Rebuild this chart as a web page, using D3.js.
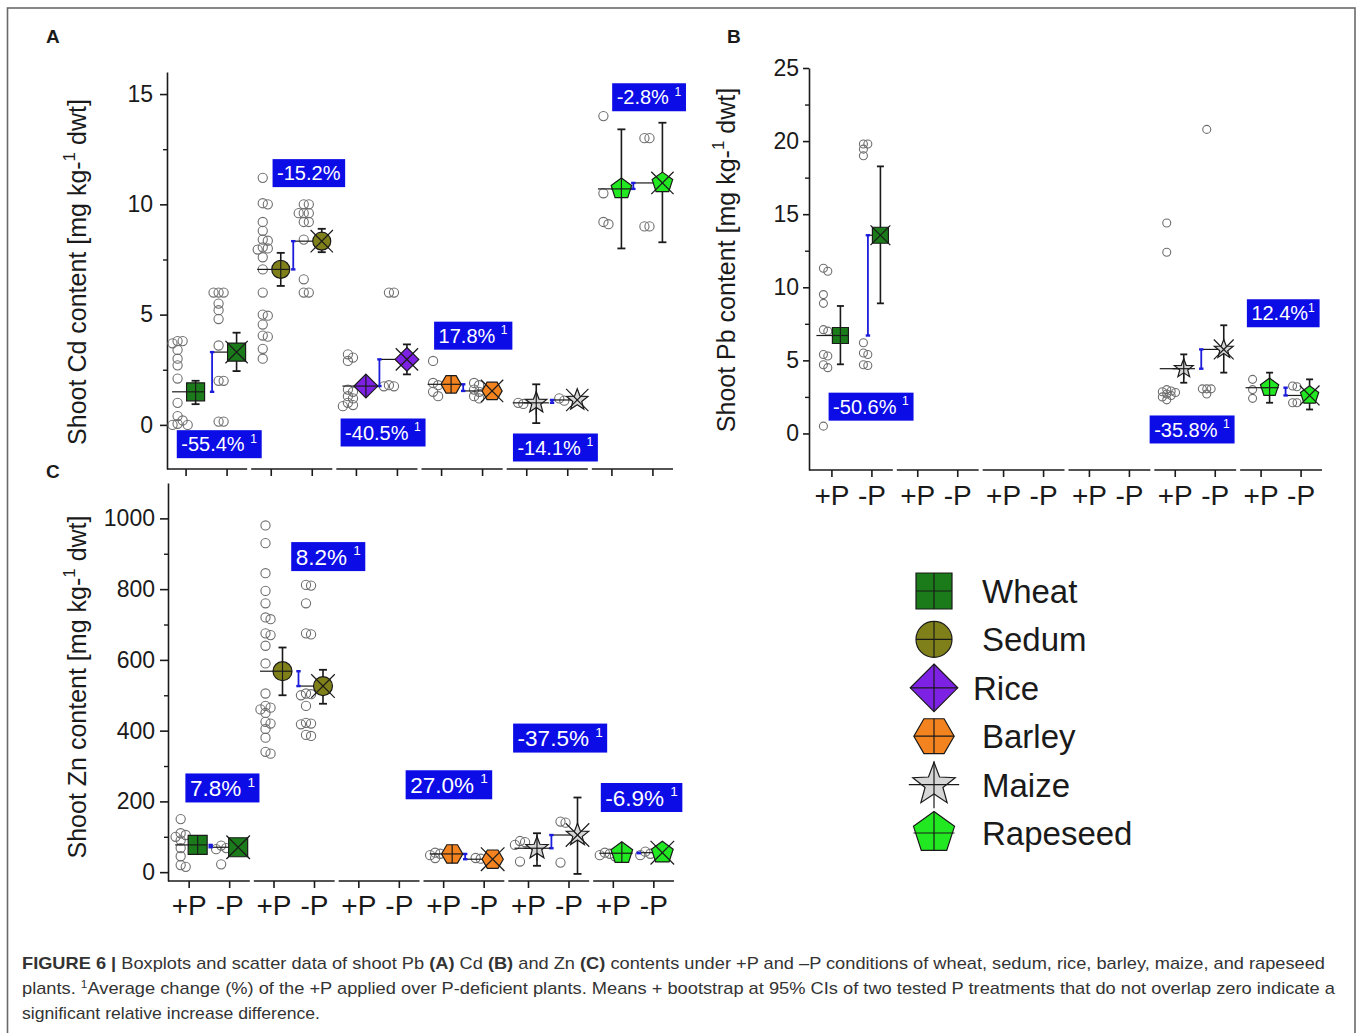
<!DOCTYPE html>
<html>
<head>
<meta charset="utf-8">
<script src="https://cdn.jsdelivr.net/npm/d3@7/dist/d3.min.js"></script>
<style>
  body { margin: 0; background: #fff; }
  svg { display: block; }
  text { font-family: "Liberation Sans", Arial, Helvetica, sans-serif; white-space: pre; }
</style>
</head>
<body>
<svg id="fig" width="1358" height="1033"></svg>
<script>
// ---------------- data ----------------
const crops = ["Wheat", "Sedum", "Rice", "Barley", "Maize", "Rapeseed"];
const treatments = ["+P", "-P"];

// Shoot Cd content (mg kg-1 dwt)
const cdPlusObs = [
  [3.8, 3.8, 3.7, 3.4, 3.0, 2.7, 2.1, 1.0, 0.4, 0.2, 0.05, 0.0, 0.0],
  [11.2, 10.05, 10.0, 9.2, 8.8, 8.4, 8.35, 8.05, 8.0, 7.95, 7.6, 7.05, 6.0, 5.0, 4.95, 4.55, 4.05, 4.0, 3.45, 3.0],
  [3.2, 3.05, 2.9, 1.6, 1.5, 1.3, 1.2, 1.0, 0.9, 0.85],
  [2.9, 1.9, 1.8, 1.5, 1.3],
  [1.0, 0.95],
  [14.0, 10.5, 9.2, 9.1]
];
const cdMinusObs = [
  [6.0, 6.0, 6.0, 5.5, 5.2, 4.8, 3.6, 2.0, 2.0, 0.15, 0.15],
  [10.0, 10.0, 9.6, 9.6, 9.6, 9.2, 9.2, 8.4, 6.6, 6.0, 6.0],
  [6.0, 6.0, 1.8, 1.75, 1.75],
  [1.9, 1.8, 1.6, 1.5, 1.3, 1.2],
  [1.2, 1.1],
  [13.0, 13.0, 9.0, 9.0]
];
const cdPlusMean = [1.5, 7.05, 1.76, 1.84, 1.0, 10.7];
const cdMinusMean = [3.3, 8.33, 2.97, 1.54, 1.13, 10.97];
const cdPlusCI = [[0.94, 2.0], [6.3, 7.8], [1.62, 1.9], [1.72, 1.96], [0.08, 1.84], [8.0, 13.4]];
const cdMinusCI = [[2.44, 4.18], [7.83, 8.89], [2.29, 3.65], [1.42, 1.66], [1.02, 1.24], [8.28, 13.7]];
const cdChange = [-55.4, -15.2, -40.5, 17.8, -14.1, -2.8];
const cdNote = ["1", "", "1", "1", "1", "1"];
const cdTicks = [0, 5, 10, 15];

// Shoot Pb content (mg kg-1 dwt)
const pbPlusObs = [
  [11.3, 11.1, 9.5, 8.9, 7.1, 7.0, 5.4, 5.3, 4.7, 4.5, 0.5],
  null, null, null,
  [14.4, 12.4, 3.0, 2.9, 2.85, 2.8, 2.7, 2.6, 2.5, 2.3],
  [3.7, 3.0, 2.4]
];
const pbMinusObs = [
  [19.8, 19.8, 19.45, 19.0, 6.2, 5.5, 5.4, 4.7, 4.65],
  null, null, null,
  [20.8, 3.05, 3.05, 3.05, 2.7],
  [3.25, 3.2, 2.1, 2.1]
];
const pbPlusMean = [6.7, null, null, null, 4.43, 3.13];
const pbMinusMean = [13.56, null, null, null, 5.75, 2.6];
const pbPlusCI = [[4.73, 8.72], null, null, null, [3.47, 5.41], [2.1, 4.16]];
const pbMinusCI = [[8.9, 18.27], null, null, null, [4.16, 7.4], [1.64, 3.7]];
const pbChange = [-50.6, null, null, null, -35.8, 12.4];
const pbNote = ["1", "", "", "", "1", "1"];
const pbTicks = [0, 5, 10, 15, 20, 25];

// Shoot Zn content (mg kg-1 dwt)
const znPlusObs = [
  [150, 110, 105, 100, 90, 68, 45, 20, 15],
  [980, 930, 845, 795, 760, 720, 715, 675, 670, 640, 590, 505, 470, 465, 460, 450, 425, 420, 405, 380, 340, 335],
  null,
  [55, 52, 48, 40],
  [88, 85, 77, 30],
  [55, 52, 48, 45]
];
const znMinusObs = [
  [75, 68, 65, 22],
  [812, 810, 760, 675, 672, 505, 503, 500, 470, 422, 420, 418, 388, 385],
  null,
  [40, 38],
  [143, 140, 27],
  [58, 52, 48]
];
const znPlusMean = [77, 568, null, 51.5, 67.6, 53.5];
const znMinusMean = [70.4, 526, null, 36.6, 105, 55];
const znPlusCI = [[53, 100], [500, 635], null, [42, 60], [18, 110], [45, 62]];
const znMinusCI = [[60, 80], [476, 572], null, [28, 45], [-5, 211], [46, 64]];
const znChange = [7.8, 8.2, null, 27.0, -37.5, -6.9];
const znNote = ["1", "1", "", "1", "1", "1"];
const znTicks = [0, 200, 400, 600, 800, 1000];

// ---------------- styling ----------------
const FONT = '"Liberation Sans", Arial, Helvetica, sans-serif';
const cropColor = ["#1b7b1b", "#80801a", "#7d22e4", "#f3831f", "#d6d6d6", "#22e822"];
const cropShape = ["square", "circle", "diamond", "hexagon", "star", "pentagon"];
const boxBlue = "#0c0ce6";
const linkBlue = "#1c1cdc";
const ink = "#1a1a1a";

const svg = d3.select("#fig");

// outer frame of the figure
svg.append("rect").attr("x", 7.5).attr("y", 8).attr("width", 1347.5).attr("height", 1040)
  .attr("fill", "none").attr("stroke", "#6a6a6a").attr("stroke-width", 1.6);

function shapePath(kind, s) {
  const h = s / 2;
  const toPath = pts => "M" + pts.map(p => p[0].toFixed(2) + "," + p[1].toFixed(2)).join("L") + "Z";
  const poly = (n, R, rot) => d3.range(n).map(k => {
    const a = rot + k * 2 * Math.PI / n;
    return [R * Math.cos(a), R * Math.sin(a)];
  });
  switch (kind) {
    case "square": return `M${-h},${-h}H${h}V${h}H${-h}Z`;
    case "circle": return `M${-h},0A${h},${h},0,1,0,${h},0A${h},${h},0,1,0,${-h},0Z`;
    case "diamond": { const d = s * 0.66; return `M0,${-d}L${d},0L0,${d}L${-d},0Z`; }
    case "hexagon": return toPath(poly(6, s * 0.56, 0));
    case "pentagon": return toPath(poly(5, s * 0.6, -Math.PI / 2));
    case "star": {
      const R = s * 0.62, r = R * 0.42;
      return toPath(d3.range(10).map(k => {
        const a = -Math.PI / 2 + k * Math.PI / 5, rr = k % 2 ? r : R;
        return [rr * Math.cos(a), rr * Math.sin(a)];
      }));
    }
  }
}

function crossExtent(kind, s) {
  const h = s / 2;
  switch (kind) {
    case "diamond": return { x: s * 0.66, top: -s * 0.66, bottom: s * 0.66 };
    case "hexagon": return { x: s * 0.56, top: -s * 0.485, bottom: s * 0.485 };
    case "pentagon": return { x: s * 0.57, top: -s * 0.6, bottom: s * 0.5 };
    case "star": return { x: s * 0.7, top: -s * 0.64, bottom: s * 0.66 };
    default: return { x: h, top: -h, bottom: h };
  }
}

function drawMarker(g, kind, cx, cy, s, fill, cross) {
  const m = g.append("g").attr("transform", `translate(${cx},${cy})`);
  m.append("path").attr("d", shapePath(kind, s)).attr("fill", fill)
    .attr("stroke", ink).attr("stroke-width", 1.2).attr("stroke-linejoin", "miter");
  if (cross === "plus") {
    const e = crossExtent(kind, s);
    m.append("line").attr("x1", -e.x).attr("x2", e.x).attr("y1", 0).attr("y2", 0)
      .attr("stroke", ink).attr("stroke-width", 1.2);
    m.append("line").attr("x1", 0).attr("x2", 0).attr("y1", e.top).attr("y2", e.bottom)
      .attr("stroke", ink).attr("stroke-width", 1.2);
  } else {
    const e = s * 0.62;
    m.append("line").attr("x1", -e).attr("y1", -e).attr("x2", e).attr("y2", e)
      .attr("stroke", ink).attr("stroke-width", 1.2);
    m.append("line").attr("x1", -e).attr("y1", e).attr("x2", e).attr("y2", -e)
      .attr("stroke", ink).attr("stroke-width", 1.2);
  }
}

// side-by-side placement of observations that would overlap
function placePoints(vals, baseX, y, r) {
  const placed = [];
  const offs = [0, 1.1, -1.1, 2.2, -2.2, 3.3, -3.3].map(k => k * r);
  vals.forEach(v => {
    const py = y(v);
    let chosen = offs[offs.length - 1];
    for (const o of offs) {
      if (placed.every(p => Math.hypot(p.x - (baseX + o), p.y - py) >= r * 1.0)) { chosen = o; break; }
    }
    placed.push({ x: baseX + chosen, y: py });
  });
  return placed;
}

function line(g, x1, y1, x2, y2, color, w) {
  return g.append("line").attr("x1", x1).attr("y1", y1).attr("x2", x2).attr("y2", y2)
    .attr("stroke", color).attr("stroke-width", w);
}

function drawPanel(p) {
  const g = svg.append("g");
  const y = d3.scaleLinear().domain(p.domain).range(p.yRange);
  const band = d3.scaleBand().domain(crops).range(p.xRange);
  const center = i => band(crops[i]) + band.bandwidth() / 2;
  const tickX = (i, t) => center(i) + (t === 0 ? -p.tickGap / 2 : p.tickGap / 2);
  const baseY = p.yRange[0];

  // y axis with major and minor ticks
  const ya = g.append("g").attr("transform", `translate(${p.axisX},0)`)
    .call(d3.axisLeft(y).tickValues(p.ticks).tickFormat(d3.format("d"))
      .tickSize(p.tickLen).tickPadding(p.tickPad).tickSizeOuter(0));
  ya.selectAll("text").attr("font-size", p.tickFont).attr("fill", ink).attr("font-family", FONT);
  ya.selectAll("line,path").attr("stroke", ink).attr("stroke-width", 1.6);
  const minor = d3.range(p.ticks.length - 1).map(k => (p.ticks[k] + p.ticks[k + 1]) / 2);
  const ym = g.append("g").attr("transform", `translate(${p.axisX},0)`)
    .call(d3.axisLeft(y).tickValues(minor).tickSize(4).tickFormat(""));
  ym.select(".domain").remove();
  ym.selectAll("line").attr("stroke", ink).attr("stroke-width", 1.4);

  // y axis title
  const tt = g.append("text").attr("transform", `translate(${p.titleX},${p.titleY}) rotate(-90)`)
    .attr("text-anchor", "middle").attr("font-size", 25).attr("fill", ink);
  tt.append("tspan").text(p.title);
  tt.append("tspan").attr("font-size", 17).attr("dy", -11).text("1");
  tt.append("tspan").attr("dy", 11).text(" dwt]");

  // segmented category axis
  crops.forEach((c, i) => {
    const x0 = i === 0 ? p.axisX : center(i) - band.step() / 2 + 2;
    const x1 = center(i) + band.step() / 2 - 2;
    line(g, x0, baseY, x1, baseY, ink, 1.6);
    treatments.forEach((tr, t) => {
      line(g, tickX(i, t), baseY, tickX(i, t), baseY + 7, ink, 1.6);
      if (p.xLabels) {
        g.append("text").attr("x", tickX(i, t)).attr("y", p.xLabelY).attr("text-anchor", "middle")
          .attr("font-size", 28).attr("fill", ink).text(tr);
      }
    });
  });

  // observations, means, bootstrap intervals and change between treatments
  crops.forEach((c, i) => {
    if (p.plusMean[i] == null) return;
    const means = [p.plusMean[i], p.minusMean[i]];
    const cis = [p.plusCI[i], p.minusCI[i]];
    const obs = [p.plusObs[i], p.minusObs[i]];
    const mx = [tickX(i, 0) + p.markDx, tickX(i, 1) + p.markDx];
    const sx = [tickX(i, 0) + p.scatDx, tickX(i, 1) + p.scatDx];
    const bx = tickX(i, 1) + p.blueDx[i];

    obs.forEach((vals, t) => {
      placePoints(vals, sx[t], y, p.pr).forEach(pt => {
        g.append("circle").attr("cx", pt.x).attr("cy", pt.y).attr("r", p.pr)
          .attr("fill", "none").attr("stroke", "#6e6e6e").attr("stroke-width", 1.1);
      });
    });

    line(g, tickX(i, 0) + p.meanDx, y(means[0]), mx[0], y(means[0]), ink, 1.2);
    line(g, bx, y(means[1]), mx[1], y(means[1]), ink, 1.2);

    line(g, bx, y(means[0]), bx, y(means[1]), linkBlue, 1.8);
    [means[0], means[1]].forEach(v => line(g, bx - 2.2, y(v), bx + 2.2, y(v), linkBlue, 2.4));

    [0, 1].forEach(t => {
      const [lo, hi] = cis[t];
      line(g, mx[t], y(lo), mx[t], y(hi), ink, 1.6);
      line(g, mx[t] - p.cap / 2, y(lo), mx[t] + p.cap / 2, y(lo), ink, 1.8);
      line(g, mx[t] - p.cap / 2, y(hi), mx[t] + p.cap / 2, y(hi), ink, 1.8);
      drawMarker(g, cropShape[i], mx[t], y(means[t]), p.ms, cropColor[i], t === 0 ? "plus" : "x");
    });
  });

  // percentage-change boxes
  crops.forEach((c, i) => {
    if (p.change[i] == null) return;
    const cx = center(i) + p.boxDx[i];
    const top = y(p.boxTop[i]);
    const lab = g.append("g");
    const rect = lab.append("rect");
    const txt = lab.append("text").attr("x", cx).attr("y", top + p.boxH / 2 + p.boxFont * 0.36)
      .attr("text-anchor", "middle").attr("font-size", p.boxFont).attr("fill", "#fff");
    txt.append("tspan").text(p.change[i].toFixed(1) + "%" + (p.note[i] && p.noteSpace[i] ? " " : ""));
    if (p.note[i]) txt.append("tspan").attr("font-size", p.boxFont * 0.6).attr("dy", -p.boxFont * 0.42).text(p.note[i]);
    const bb = txt.node().getBBox();
    rect.attr("x", bb.x - 4.5).attr("y", top).attr("width", bb.width + 9).attr("height", p.boxH)
      .attr("fill", boxBlue);
  });

  // panel letter
  svg.append("text").attr("x", p.letterX).attr("y", p.letterY).attr("font-size", 19)
    .attr("font-weight", "bold").attr("fill", ink).text(p.letter);
}

// ---------------- panels ----------------
drawPanel({
  letter: "A", letterX: 46, letterY: 43,
  domain: [-2, 16], yRange: [469, 72], xRange: [164, 675], axisX: 167, tickGap: 41,
  ticks: cdTicks, tickLen: 7, tickPad: 7, tickFont: 23,
  title: "Shoot Cd content [mg kg-", titleX: 86, titleY: 272,
  xLabels: false,
  plusObs: cdPlusObs, minusObs: cdMinusObs, plusMean: cdPlusMean, minusMean: cdMinusMean,
  plusCI: cdPlusCI, minusCI: cdMinusCI, change: cdChange, note: cdNote,
  noteSpace: [true, true, true, true, true, true],
  ms: 18, pr: 4.6, markDx: 9.5, scatDx: -8.5, meanDx: -14, cap: 8,
  blueDx: [-15, -19, -18, -19.4, -15.7, -19.6],
  boxFont: 20, boxH: 28,
  boxDx: [12.5, 17, 6, 11, 8, 16.5], boxTop: [-0.24, 12.05, 0.29, 4.68, -0.39, 15.49]
});

drawPanel({
  letter: "B", letterX: 727, letterY: 43,
  domain: [-2.5, 25], yRange: [470, 68], xRange: [809, 1324], axisX: 809, tickGap: 40,
  ticks: pbTicks, tickLen: 6, tickPad: 4, tickFont: 23,
  title: "Shoot Pb content [mg kg-", titleX: 735, titleY: 260,
  xLabels: true, xLabelY: 505,
  plusObs: pbPlusObs, minusObs: pbMinusObs, plusMean: pbPlusMean, minusMean: pbMinusMean,
  plusCI: pbPlusCI, minusCI: pbMinusCI, change: pbChange, note: pbNote,
  noteSpace: [true, true, true, true, true, false],
  ms: 16, pr: 4.0, markDx: 8.5, scatDx: -8.5, meanDx: -15.5, cap: 7,
  blueDx: [-4, 0, 0, 0, -14, -15.5],
  boxFont: 20, boxH: 28,
  boxDx: [19, 0, 0, 0, -3.3, 2], boxTop: [2.79, 0, 0, 0, 1.23, 9.18]
});

drawPanel({
  letter: "C", letterX: 46, letterY: 478,
  domain: [-25, 1100], yRange: [881, 483], xRange: [167, 676], axisX: 168, tickGap: 40.5,
  ticks: znTicks, tickLen: 8, tickPad: 5, tickFont: 23,
  title: "Shoot Zn content [mg kg-", titleX: 86, titleY: 687,
  xLabels: true, xLabelY: 915,
  plusObs: znPlusObs, minusObs: znMinusObs, plusMean: znPlusMean, minusMean: znMinusMean,
  plusCI: znPlusCI, minusCI: znMinusCI, change: znChange, note: znNote,
  noteSpace: [true, true, true, true, true, true],
  ms: 19, pr: 4.6, markDx: 8.5, scatDx: -8.5, meanDx: -14, cap: 8,
  blueDx: [-19, -16, 0, -19, -17.6, -15],
  boxFont: 22.5, boxH: 29,
  boxDx: [13, 34, 0, -15, 11.4, 8], boxTop: [279, 933, 0, 288, 420, 252]
});

// ---------------- legend ----------------
const legendY = d3.scalePoint().domain(crops).range([591, 833]);
const legendTextDx = [0, 0, -9, 0, 0, 0];
const lg = svg.append("g");
crops.forEach((c, i) => {
  drawMarker(lg, cropShape[i], 934, legendY(c), 36, cropColor[i], "plus");
  lg.append("text").attr("x", 982 + legendTextDx[i]).attr("y", legendY(c) + 12)
    .attr("font-size", 33).attr("fill", ink).text(c);
});

// ---------------- caption ----------------
const cap = svg.append("g").attr("fill", "#333").attr("font-size", 17);
const line1 = cap.append("text").attr("x", 22).attr("y", 969)
  .attr("textLength", 1303).attr("lengthAdjust", "spacingAndGlyphs");
[["FIGURE 6 |", true], [" Boxplots and scatter data of shoot Pb ", false], ["(A)", true], [" Cd ", false],
 ["(B)", true], [" and Zn ", false], ["(C)", true],
 [" contents under +P and \u2013P conditions of wheat, sedum, rice, barley, maize, and rapeseed", false]]
  .forEach(([s, b]) => line1.append("tspan").attr("font-weight", b ? "bold" : null).text(s));
const line2 = cap.append("text").attr("x", 22).attr("y", 994)
  .attr("textLength", 1313).attr("lengthAdjust", "spacingAndGlyphs");
line2.append("tspan").text("plants. ");
line2.append("tspan").attr("font-size", 11).attr("dy", -6).text("1");
line2.append("tspan").attr("dy", 6).text("Average change (%) of the +P applied over P-deficient plants. Means + bootstrap at 95% CIs of two tested P treatments that do not overlap zero indicate a");
cap.append("text").attr("x", 22).attr("y", 1019)
  .attr("textLength", 298).attr("lengthAdjust", "spacingAndGlyphs")
  .text("significant relative increase difference.");
</script>
</body>
</html>
